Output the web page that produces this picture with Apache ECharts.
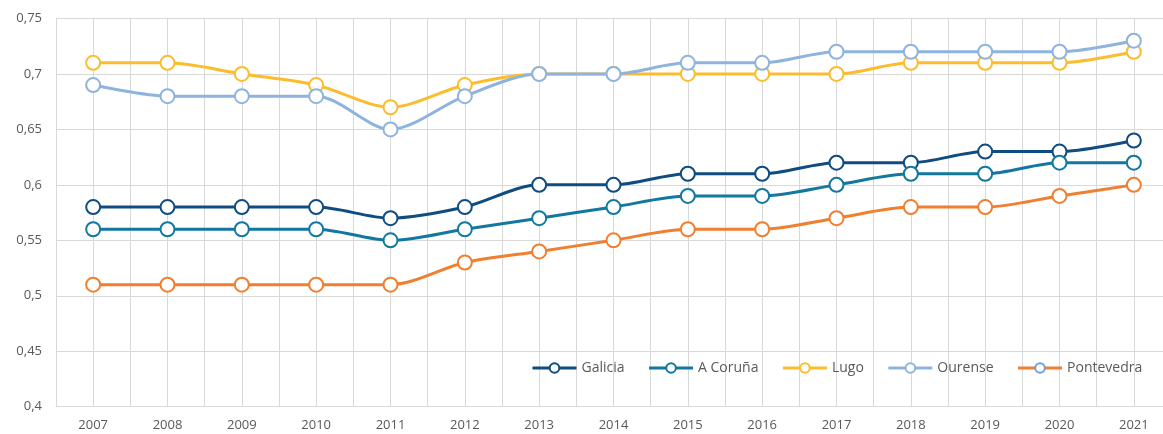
<!DOCTYPE html>
<html>
<head>
<meta charset="utf-8">
<script src="https://cdn.jsdelivr.net/npm/echarts@6/dist/echarts.min.js"></script>
<style>
  html, body { margin: 0; padding: 0; background: #fff; overflow: hidden; }
  #chart { width: 1163px; height: 434px; }
</style>
</head>
<body>
<div id="chart"></div>
<script>
const years = ['2007','2008','2009','2010','2011','2012','2013','2014','2015','2016','2017','2018','2019','2020','2021'];

const galicia    = [0.58,0.58,0.58,0.58,0.57,0.58,0.60,0.60,0.61,0.61,0.62,0.62,0.63,0.63,0.64];
const aCoruna    = [0.56,0.56,0.56,0.56,0.55,0.56,0.57,0.58,0.59,0.59,0.60,0.61,0.61,0.62,0.62];
const lugo       = [0.71,0.71,0.70,0.69,0.67,0.69,0.70,0.70,0.70,0.70,0.70,0.71,0.71,0.71,0.72];
const ourense    = [0.69,0.68,0.68,0.68,0.65,0.68,0.70,0.70,0.71,0.71,0.72,0.72,0.72,0.72,0.73];
const pontevedra = [0.51,0.51,0.51,0.51,0.51,0.53,0.54,0.55,0.56,0.56,0.57,0.58,0.58,0.59,0.60];

const seriesDefs = [
  { name: 'Galicia',    data: galicia,    color: '#0f4c81' },
  { name: 'A Coruña',   data: aCoruna,    color: '#1278a0' },
  { name: 'Lugo',       data: lugo,       color: '#fbbd2e' },
  { name: 'Ourense',    data: ourense,    color: '#8eb4de' },
  { name: 'Pontevedra', data: pontevedra, color: '#f07f2f' }
];

const FONT = '"Open Sans", "Noto Sans", sans-serif';
const GRID = '#d9d9d9';
const TEXT = '#595959';

const chart = echarts.init(document.getElementById('chart'), null, { renderer: 'canvas' });

chart.setOption({
  animation: false,
  backgroundColor: '#ffffff',
  // plot area runs slightly past the right edge of the canvas
  grid: {
    left: 56, width: 1115, top: 18.5, bottom: 27.3,
    containLabel: false, outerBoundsMode: 'none'
  },
  legend: {
    top: 356,
    left: 526,
    itemWidth: 44,
    itemHeight: 12,
    itemGap: 23,
    lineStyle: { width: 3 },
    textStyle: { color: TEXT, fontFamily: FONT, fontSize: 14 },
    data: seriesDefs.map(s => s.name === 'Pontevedra'
      ? { name: s.name, itemStyle: { borderColor: '#6fa0dc' } }
      : { name: s.name })
  },
  xAxis: [
    {
      type: 'category',
      data: years,
      boundaryGap: true,
      axisLine: { show: true, lineStyle: { color: GRID, width: 1 } },
      axisTick: { show: false },
      splitLine: { show: false },
      axisLabel: { color: TEXT, fontFamily: FONT, fontSize: 13, margin: 12 }
    },
    {
      // half-category grid: lines at every year and every boundary between years
      type: 'value',
      min: -0.5,
      max: years.length - 0.5,
      interval: 0.5,
      position: 'bottom',
      axisLine: { show: false },
      axisTick: { show: false },
      axisLabel: { show: false },
      splitLine: { show: true, lineStyle: { color: GRID, width: 1 } }
    }
  ],
  yAxis: {
    type: 'value',
    min: 0.4,
    max: 0.75,
    interval: 0.05,
    axisLine: { show: false },
    axisTick: { show: false },
    axisLabel: {
      color: TEXT, fontFamily: FONT, fontSize: 13, margin: 14,
      formatter: v => String(Math.round(v * 100) / 100).replace('.', ',')
    },
    splitLine: { show: true, lineStyle: { color: GRID, width: 1 } }
  },
  series: seriesDefs.map(s => ({
    name: s.name,
    type: 'line',
    xAxisIndex: 0,
    data: s.data,
    smooth: 0.3,
    symbol: 'circle',
    symbolSize: 14,
    showAllSymbol: true,
    lineStyle: { color: s.color, width: 3 },
    itemStyle: { color: '#ffffff', borderColor: s.color, borderWidth: 2 }
  }))
});
</script>
</body>
</html>
